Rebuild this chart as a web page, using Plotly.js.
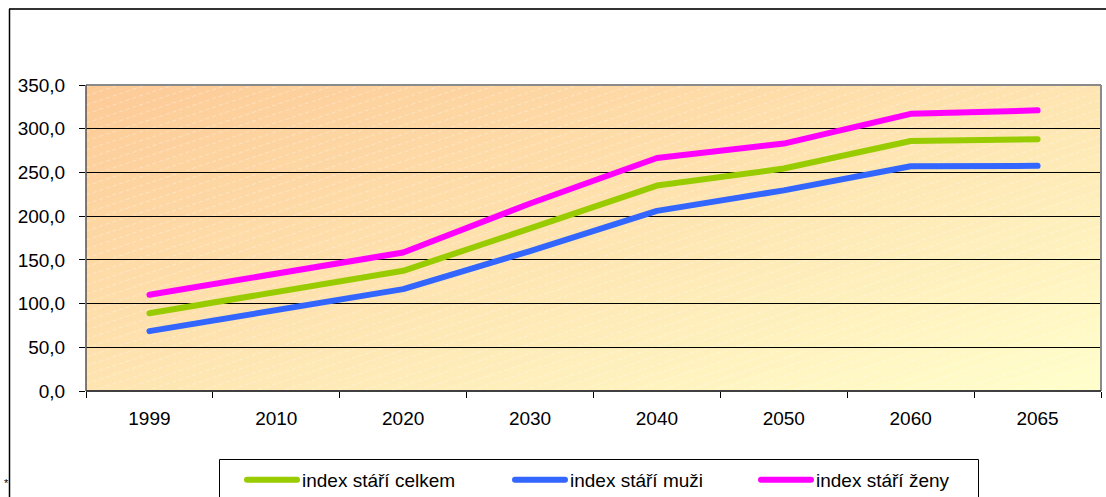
<!DOCTYPE html>
<html>
<head>
<meta charset="utf-8">
<script src="https://cdn.plot.ly/plotly-3.0.1.min.js"></script>
<style>
  html, body { margin: 0; padding: 0; background: #ffffff; }
  #chart { width: 1106px; height: 497px; }
  #chart .js-line { stroke-linecap: round; stroke-linejoin: round; }
</style>
</head>
<body>
<div id="chart"></div>
<script>
// ---- data ----
const years = ["1999", "2010", "2020", "2030", "2040", "2050", "2060", "2065"];
const celkem = [89.0, 113.5, 137.5, 186.0, 235.0, 254.5, 286.0, 288.0];
const muzi   = [68.5, 93.0, 116.5, 160.0, 206.0, 229.5, 257.0, 257.5];
const zeny   = [110.0, 134.5, 158.5, 214.5, 266.5, 283.0, 317.0, 321.0];
const seriesNames = ["index stáří celkem", "index stáří muži", "index stáří ženy"];
const yTicks = [0, 50, 100, 150, 200, 250, 300, 350];

// ---- layout constants ----
const W = 1106, H = 497;
const M = { l: 86, r: 5, t: 85, b: 106 };
const PW = W - M.l - M.r, PH = H - M.t - M.b;
const px2x = p => (p - M.l) / PW;
const py2y = p => (M.t + PH - p) / PH;
const FONT = "Liberation Sans, Arial, sans-serif";

// background gradient texture for the plot area
function makeBg() {
  const c = document.createElement("canvas");
  c.width = PW; c.height = PH;
  const ctx = c.getContext("2d");
  const img = ctx.createImageData(PW, PH);
  const c0 = [253, 202, 150], c1 = [255, 255, 204];
  for (let y = 0; y < PH; y++) {
    for (let x = 0; x < PW; x++) {
      const t = Math.min(1, Math.max(0, (x / PW + y / PH) / 2));
      const i = (y * PW + x) * 4;
      img.data[i]     = c0[0] + (c1[0] - c0[0]) * t;
      img.data[i + 1] = c0[1] + (c1[1] - c0[1]) * t;
      img.data[i + 2] = c0[2] + (c1[2] - c0[2]) * t;
      img.data[i + 3] = 255;
    }
  }
  ctx.putImageData(img, 0, 0);
  ctx.strokeStyle = "rgba(255,255,255,0.35)";
  ctx.lineWidth = 1;
  ctx.setLineDash([4, 3]);
  for (let k = -PW; k < PH + PW; k += 9) {
    ctx.beginPath();
    ctx.moveTo(0, k);
    ctx.lineTo(PW, k - PW / 3);
    ctx.stroke();
  }
  return c.toDataURL("image/png");
}

const colors = ["#99CC00", "#3366FF", "#FF00FF"];
const values = [celkem, muzi, zeny];
const legendIds = ["legend", "legend2", "legend3"];

const traces = values.map((v, i) => ({
  type: "scatter",
  mode: "lines",
  x: years,
  y: v,
  name: seriesNames[i],
  legend: legendIds[i],
  line: { color: colors[i], width: 6, shape: "linear" },
  hoverinfo: "x+y+name"
}));

const legendBase = (xpx) => ({
  x: px2x(xpx), xanchor: "left",
  yref: "container",
  y: (H - 480) / H, yanchor: "middle",
  orientation: "h",
  bgcolor: "rgba(0,0,0,0)",
  borderwidth: 0,
  itemwidth: 50,
  font: { family: FONT, size: 19, color: "#000" }
});

const layout = {
  width: W, height: H,
  margin: M,
  paper_bgcolor: "#ffffff",
  plot_bgcolor: "rgba(0,0,0,0)",
  separators: ", ",
  showlegend: true,
  legend: legendBase(242),
  legend2: legendBase(510),
  legend3: legendBase(756),
  xaxis: {
    type: "category",
    range: [-0.5, 7.5],
    tickson: "boundaries",
    ticks: "outside",
    ticklen: 6,
    tickcolor: "#000",
    tickwidth: 1,
    showgrid: false,
    showline: false,
    zeroline: false,
    tickfont: { family: FONT, size: 19, color: "#000" },
    ticklabelstandoff: 14,
    automargin: false,
    fixedrange: true
  },
  yaxis: {
    range: [0, 350],
    tickvals: yTicks,
    tickformat: ".1f",
    ticks: "outside",
    ticklen: 6,
    tickcolor: "#000",
    tickwidth: 1,
    showgrid: true,
    gridcolor: "#000",
    gridwidth: 1,
    showline: false,
    zeroline: false,
    tickfont: { family: FONT, size: 19, color: "#000" },
    ticklabelstandoff: 10,
    automargin: false,
    fixedrange: true
  },
  images: [{
    source: makeBg(),
    xref: "paper", yref: "paper",
    x: 0, y: 1, sizex: 1, sizey: 1,
    xanchor: "left", yanchor: "top",
    sizing: "stretch", layer: "below"
  }],
  shapes: [
    // plot area border: top & right gray
    { type: "line", xref: "paper", yref: "paper", x0: 0, x1: 1, y0: 1, y1: 1, line: { color: "#8a8a8a", width: 2 } },
    { type: "line", xref: "paper", yref: "paper", x0: 1, x1: 1, y0: 0, y1: 1, line: { color: "#8a8a8a", width: 2 } },
    // left & bottom axis lines dark
    { type: "line", xref: "paper", yref: "paper", x0: 0, x1: 0, y0: 0, y1: 1, line: { color: "#505050", width: 1.5 } },
    { type: "line", xref: "paper", yref: "paper", x0: 0, x1: 1, y0: 0, y1: 0, line: { color: "#404040", width: 2 } },
    // outer frame (cropped)
    { type: "line", xref: "paper", yref: "paper", x0: px2x(9), x1: px2x(1106), y0: py2y(9), y1: py2y(9), line: { color: "#333333", width: 2 } },
    { type: "line", xref: "paper", yref: "paper", x0: px2x(9.5), x1: px2x(9.5), y0: py2y(9), y1: py2y(500), line: { color: "#000000", width: 1.5 } },
    // legend box
    { type: "rect", xref: "paper", yref: "paper", x0: px2x(219.5), x1: px2x(978.5), y0: py2y(459.5), y1: py2y(505), line: { color: "#000000", width: 1 }, fillcolor: "rgba(255,255,255,0)" }
  ],
  annotations: [
    { text: "*", xref: "paper", yref: "paper", x: px2x(6), y: py2y(483), xanchor: "center", yanchor: "middle", showarrow: false, font: { family: FONT, size: 11, color: "#000" } }
  ]
};

Plotly.newPlot("chart", traces, layout, { displayModeBar: false, staticPlot: true });
</script>
</body>
</html>
